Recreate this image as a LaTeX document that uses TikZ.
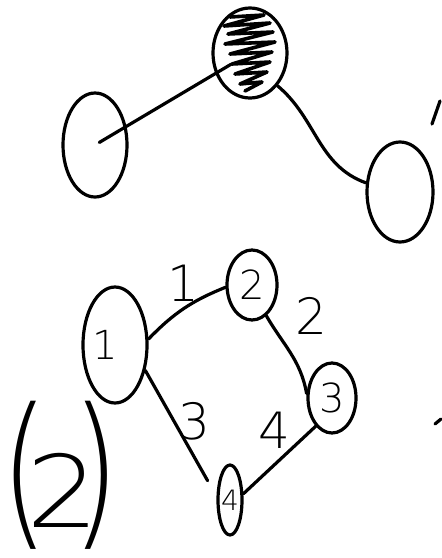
\documentclass[tikz,border=0pt]{standalone}
\usepackage{fontspec}
\setmainfont{DejaVu Sans ExtraLight}
\usetikzlibrary{shapes.geometric}

\begin{document}
\begin{tikzpicture}[
  x=1pt,y=-1pt,
  pen/.style={line width=3.2pt,line cap=round,line join=round},
  blob/.style={ellipse,draw,pen,inner sep=0pt},
  edge/.style={pen},
  num/.style={font=\fontsize{50}{50}\selectfont},
  tag/.style={font=\fontsize{40}{40}\selectfont}
]
\useasboundingbox (0,0) rectangle (442,558);
% first tree
\node[blob,minimum width=74,minimum height=90] (top) at (250,53) {};
\node[blob,minimum width=64,minimum height=104] (lft) at (95,145) {};
\node[blob,minimum width=66,minimum height=100] (rgt) at (400,192) {};
\begin{scope}[shift={(top.center)}]
\draw[pen,line width=3.6pt] (-20,-36) -- (14,-38) -- (-26,-27) -- (20,-30) -- (-22,-19) -- (23,-21)
  -- (-25,-9) -- (25,-11) -- (-20,1) -- (22,-1) -- (-18,11) -- (20,9) -- (-15,21) -- (17,19)
  -- (-10,31) -- (12,29) -- (-5,38);
\end{scope}
\draw[edge,shorten <=5pt,shorten >=22pt] (lft.center) -- (top.center);
\draw[edge] (top.-50) to[out=-40,in=160] (rgt.165);
\draw[pen] (432,124) -- (440,101);
% second graph
\node[blob,minimum width=64,minimum height=116,label={[tag,xshift=-10pt]center:1}] (n1) at (115,345) {};
\node[blob,minimum width=50,minimum height=70,label={[tag]center:2}] (n2) at (252,285) {};
\node[blob,minimum width=48,minimum height=70,label={[tag]center:3}] (n3) at (332,398) {};
\node[blob,minimum width=24,minimum height=70,label={[font=\fontsize{28}{28}\selectfont]center:4}] (n4) at (230,500) {};
\draw[edge] (n1.10) to[bend left=12] node[num,midway,above=2pt] {1} (n2.185);
\draw[edge] (n2.-65) to[out=-60,in=100] node[num,midway,above right,yshift=14pt] {2} (n3.170);
\draw[edge,shorten >=18pt] (n1.-40) -- node[num,pos=0.4,right] {3} (n4.165);
\draw[edge] (n3.-120) -- node[num,pos=0.4,anchor=south east,xshift=8pt] {4} (n4.25);
\draw[pen] (435,424) -- (441,419);
% big label
\node[inner sep=0pt,anchor=base west] (big) at (0,527)
  {{\fontsize{125}{125}\selectfont\scalebox{1}[1.33]{(}}\kern-22pt%
   {\fontsize{100}{100}\selectfont\scalebox{1.15}[1]{2}}\kern-29pt%
   {\fontsize{125}{125}\selectfont\scalebox{1}[1.33]{)}}};
\end{tikzpicture}
\end{document}
